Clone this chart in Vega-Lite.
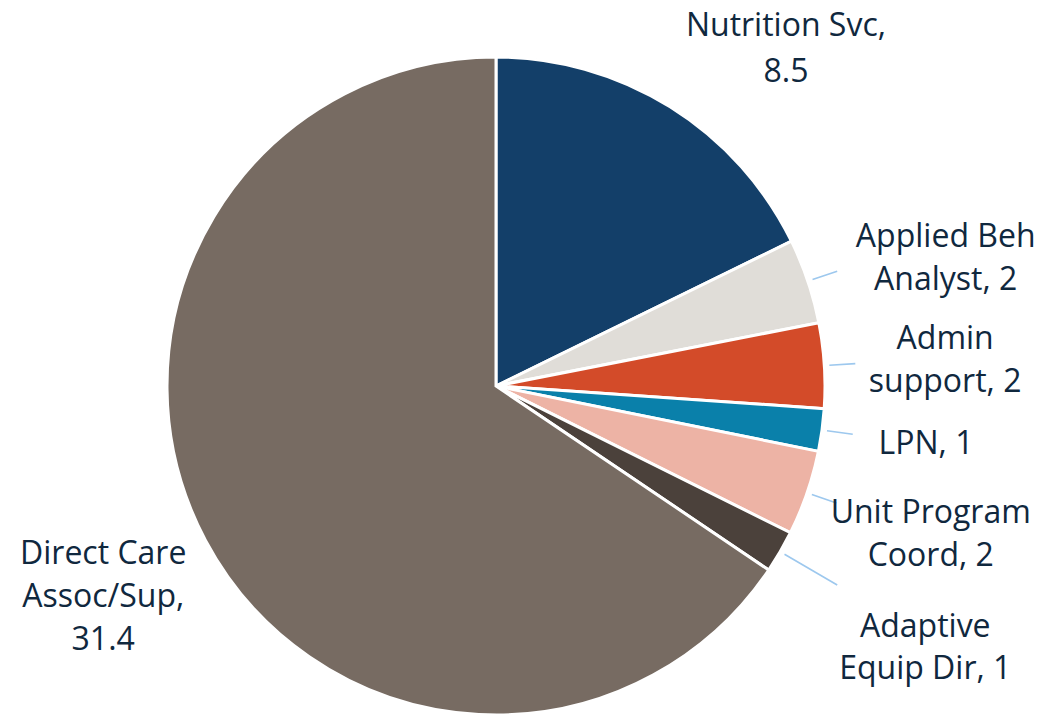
{
  "$schema": "https://vega.github.io/schema/vega-lite/v6.json",
  "autosize": {"type": "none"},
  "width": 992,
  "height": 658,
  "padding": {"left": 0, "top": 57, "right": 69, "bottom": 0},
  "background": "white",
  "config": {"view": {"stroke": null}},
  "data": {
    "values": [
      {"k": 1, "role": "Nutrition Svc", "value": 8.5, "label": "Nutrition Svc,\n8.5"},
      {"k": 2, "role": "Applied Beh Analyst", "value": 2, "label": "Applied Beh\nAnalyst, 2"},
      {"k": 3, "role": "Admin support", "value": 2, "label": "Admin\nsupport, 2"},
      {"k": 4, "role": "LPN", "value": 1, "label": "LPN, 1"},
      {"k": 5, "role": "Unit Program Coord", "value": 2, "label": "Unit Program\nCoord, 2"},
      {"k": 6, "role": "Adaptive Equip Dir", "value": 1, "label": "Adaptive\nEquip Dir, 1"},
      {"k": 7, "role": "Direct Care Assoc/Sup", "value": 31.4, "label": "Direct Care\nAssoc/Sup,\n31.4"}
    ]
  },
  "encoding": {
    "theta": {"field": "value", "type": "quantitative", "stack": true},
    "order": {"field": "k", "type": "quantitative"}
  },
  "layer": [
    {
      "mark": {"type": "arc", "radius": 329, "stroke": "white", "strokeWidth": 3},
      "encoding": {
        "color": {
          "field": "role",
          "type": "nominal",
          "legend": null,
          "scale": {
            "domain": ["Nutrition Svc", "Applied Beh Analyst", "Admin support", "LPN", "Unit Program Coord", "Adaptive Equip Dir", "Direct Care Assoc/Sup"],
            "range": ["#133f69", "#e0ddd8", "#d34b29", "#0a80aa", "#edb3a5", "#4b413b", "#776b62"]
          }
        }
      }
    },
    {
      "mark": {"type": "arc", "radius": 360, "radius2": 334, "padAngle": 6, "filled": false, "stroke": "#9dc8ee", "strokeWidth": 1.6},
      "encoding": {
        "strokeOpacity": {
          "condition": {"test": "datum.k >= 2 && datum.k <= 5", "value": 1},
          "value": 0
        }
      }
    },
    {
      "mark": {"type": "arc", "radius": 395, "radius2": 334, "padAngle": 6, "filled": false, "stroke": "#9dc8ee", "strokeWidth": 1.6},
      "encoding": {
        "strokeOpacity": {
          "condition": {"test": "datum.k == 6", "value": 1},
          "value": 0
        }
      }
    },
    {
      "mark": {"type": "text", "radius": 446, "dx": 54, "dy": 18, "font": "Open Sans", "fontSize": 32, "lineBreak": "\n", "lineHeight": 46, "align": "center", "baseline": "middle", "fill": "#10283e"},
      "encoding": {"text": {"condition": {"test": "datum.k == 1", "field": "label"}, "value": ""}}
    },
    {
      "mark": {"type": "text", "radius": 446, "dx": 27, "dy": -7, "font": "Open Sans", "fontSize": 32, "lineBreak": "\n", "lineHeight": 43, "align": "center", "baseline": "middle", "fill": "#10283e"},
      "encoding": {"text": {"condition": {"test": "datum.k == 2", "field": "label"}, "value": ""}}
    },
    {
      "mark": {"type": "text", "radius": 446, "dx": 4, "dy": -19, "font": "Open Sans", "fontSize": 32, "lineBreak": "\n", "lineHeight": 43, "align": "center", "baseline": "middle", "fill": "#10283e"},
      "encoding": {"text": {"condition": {"test": "datum.k == 3", "field": "label"}, "value": ""}}
    },
    {
      "mark": {"type": "text", "radius": 446, "dx": -12, "dy": -2, "font": "Open Sans", "fontSize": 32, "lineBreak": "\n", "lineHeight": 43, "align": "center", "baseline": "middle", "fill": "#10283e"},
      "encoding": {"text": {"condition": {"test": "datum.k == 4", "field": "label"}, "value": ""}}
    },
    {
      "mark": {"type": "text", "radius": 446, "dx": 13, "dy": -18, "font": "Open Sans", "fontSize": 32, "lineBreak": "\n", "lineHeight": 43, "align": "center", "baseline": "middle", "fill": "#10283e"},
      "encoding": {"text": {"condition": {"test": "datum.k == 5", "field": "label"}, "value": ""}}
    },
    {
      "mark": {"type": "text", "radius": 446, "dx": 44, "dy": 16, "font": "Open Sans", "fontSize": 32, "lineBreak": "\n", "lineHeight": 42, "align": "center", "baseline": "middle", "fill": "#10283e"},
      "encoding": {"text": {"condition": {"test": "datum.k == 6", "field": "label"}, "value": ""}}
    },
    {
      "mark": {"type": "text", "radius": 446, "dx": 1, "dy": -41, "font": "Open Sans", "fontSize": 32, "lineBreak": "\n", "lineHeight": 43, "align": "center", "baseline": "middle", "fill": "#10283e"},
      "encoding": {"text": {"condition": {"test": "datum.k == 7", "field": "label"}, "value": ""}}
    }
  ]
}
